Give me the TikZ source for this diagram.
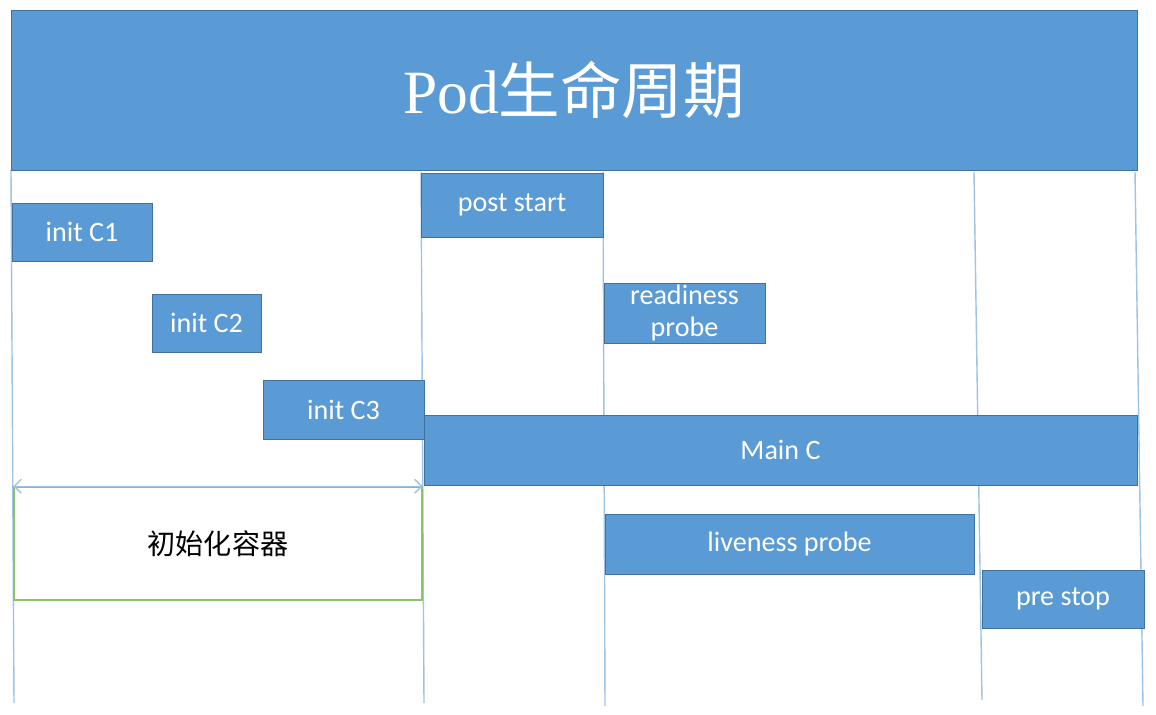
\documentclass[tikz,border=0pt]{standalone}
\usepackage{fontspec}
\setmainfont{Carlito}
\newfontfamily\cjk{Noto Sans CJK SC}
\newfontfamily\latinserif{Liberation Serif}
\usetikzlibrary{arrows.meta}
\definecolor{boxblue}{HTML}{5B9BD5}
\definecolor{edgeblue}{HTML}{41719C}
\definecolor{lineblue}{HTML}{9DC3E6}
\definecolor{groupgreen}{HTML}{8CC26A}

\begin{document}
\begin{tikzpicture}[
	x=0.02cm,
	y=-0.02cm,
	title/.style={
		rectangle,
		draw=edgeblue,
		fill=boxblue,
		text=white,
		align=center,
		inner sep=0pt,
		font=\cjk\fontsize{35}{40}\selectfont
	},
	stage/.style={
		rectangle,
		draw=edgeblue,
		fill=boxblue,
		text=white,
		align=center,
		inner sep=0pt,
		font=\fontsize{16}{18.5}\selectfont
	},
	group/.style={
		rectangle,
		draw=groupgreen,
		thick,
		align=center,
		inner sep=0pt,
		font=\cjk\fontsize{16}{18}\selectfont
	},
	timeline/.style={
		draw=lineblue,
		line width=0.8pt
	}
]

\useasboundingbox (0,0) rectangle (1156,714);

% time lines
\coordinate (top_a) at (11,170);   \coordinate (bot_a) at (14,703);
\coordinate (top_b) at (421,172);  \coordinate (bot_b) at (424,703);
\coordinate (top_c) at (603,172);  \coordinate (bot_c) at (605,706);
\coordinate (top_d) at (974,172);  \coordinate (bot_d) at (982,700);
\coordinate (top_e) at (1135,172); \coordinate (bot_e) at (1143,706);

\foreach \k in {a,b,c,d,e}
	\draw[timeline] (top_\k) -- (bot_\k);

\node[title, minimum width=22.52cm, minimum height=3.2cm] (pod) at (574,90) {{\latinserif Pod}生命周期};

\node[stage, minimum width=2.8cm, minimum height=1.16cm] (init_one) at (82,232) {init C1};
\node[stage, minimum width=2.18cm, minimum height=1.16cm] (init_two) at (206.5,323) {init C2};
\node[stage, minimum width=3.22cm, minimum height=1.18cm] (init_three) at (343.5,409.5) {init C3};

\node[stage, minimum width=3.64cm, minimum height=1.28cm] (post_start) at (512,205) {post start};
\node[stage, minimum width=3.22cm, minimum height=1.2cm] (readiness) at (684.5,313) {readiness\\probe};
\node[stage, minimum width=14.26cm, minimum height=1.4cm] (main_c) at (780.5,450) {Main C};
\node[stage, minimum width=7.38cm, minimum height=1.2cm] (liveness) at (789.5,544) {liveness probe};
\node[stage, minimum width=3.24cm, minimum height=1.16cm] (pre_stop) at (1063,599) {pre stop};

\node[group, minimum width=8.16cm, minimum height=2.26cm] (init_group) at (218,543.5) {初始化容器};

\draw[timeline, {Straight Barb[length=4pt]}-{Straight Barb[length=4pt]}] (init_group.north west) -- (init_group.north east);

\end{tikzpicture}
\end{document}
